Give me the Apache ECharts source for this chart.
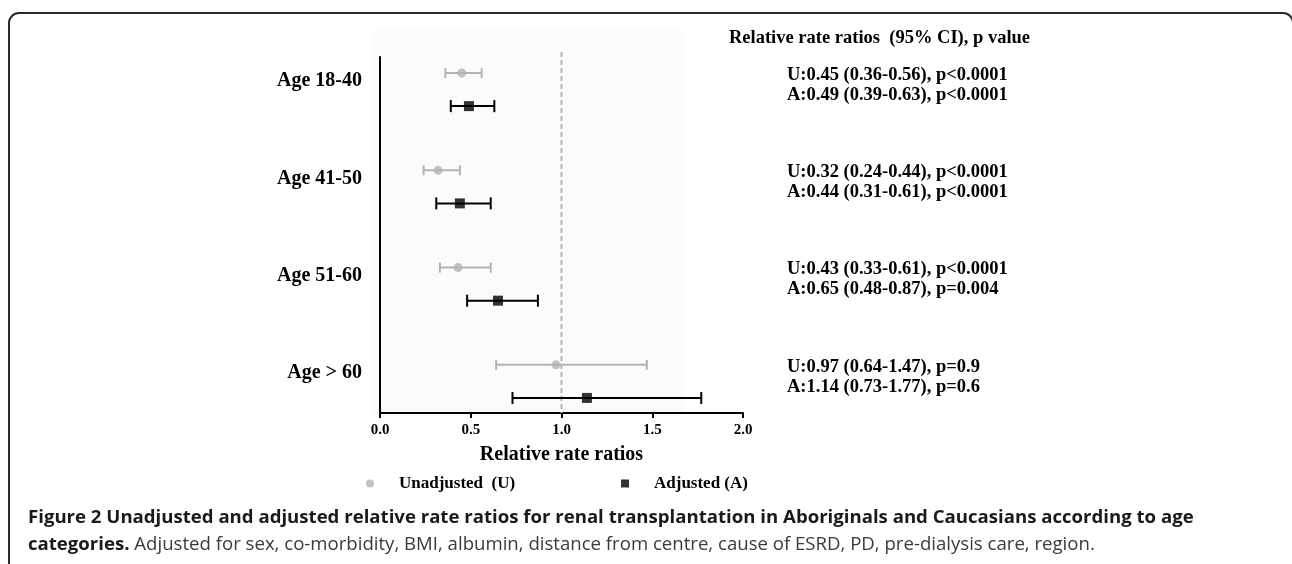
<!DOCTYPE html>
<html><head><meta charset="utf-8">
<script src="https://cdn.jsdelivr.net/npm/echarts@6/dist/echarts.min.js"></script>
<style>html,body{margin:0;padding:0;background:#fff}#c{width:1292px;height:564px}</style>
</head><body><div id="c"></div>
<script>
// ---- data ----
const categories = ['Age 18-40', 'Age 41-50', 'Age 51-60', 'Age > 60'];
const unadjRR = [0.45, 0.32, 0.43, 0.97];
const unadjLo = [0.36, 0.24, 0.33, 0.64];
const unadjHi = [0.56, 0.44, 0.61, 1.47];
const unadjP  = ['p<0.0001', 'p<0.0001', 'p<0.0001', 'p=0.9'];
const adjRR = [0.49, 0.44, 0.65, 1.14];
const adjLo = [0.39, 0.31, 0.48, 0.73];
const adjHi = [0.63, 0.61, 0.87, 1.77];
const adjP  = ['p<0.0001', 'p<0.0001', 'p=0.004', 'p=0.6'];
const xMin = 0, xMax = 2, xStep = 0.5;
const refValue = 1.0;
const seriesNames = ['Unadjusted  (U)', 'Adjusted (A)'];
const tableTitle = 'Relative rate ratios  (95% CI), p value';
const axisTitle = 'Relative rate ratios';
const captionBold1 = 'Figure 2 Unadjusted and adjusted relative rate ratios for renal transplantation in Aboriginals and Caucasians according to age';
const captionBold2 = 'categories.';
const captionRest = ' Adjusted for sex, co-morbidity, BMI, albumin, distance from centre, cause of ESRD, PD, pre-dialysis care, region.';

// ---- layout / style constants ----
const SERIF = '"Liberation Serif", "Times New Roman", serif';
const SANS = '"Open Sans", "Noto Sans", sans-serif';
const U_OFF = 0, A_OFF = 0.34, LABEL_OFF = 0.085;
const Y_MIN = -0.165, Y_MAX = 3.495;
const GRAY = '#b3b3b3';
const fmt = v => v.toFixed(2);

function ciSeries(name, lo, hi, off, color, width, cap) {
  return {
    type: 'custom', name, silent: true, z: 3, clip: false,
    data: lo.map((v, i) => [lo[i], hi[i], i + off]),
    encode: { x: [0, 1], y: 2 },
    renderItem(params, api) {
      const a = api.coord([api.value(0), api.value(2)]);
      const b = api.coord([api.value(1), api.value(2)]);
      const st = { stroke: color, lineWidth: width };
      return { type: 'group', children: [
        { type: 'line', shape: { x1: a[0], y1: a[1], x2: b[0], y2: b[1] }, style: st },
        { type: 'line', shape: { x1: a[0], y1: a[1] - cap, x2: a[0], y2: a[1] + cap }, style: st },
        { type: 'line', shape: { x1: b[0], y1: b[1] - cap, x2: b[0], y2: b[1] + cap }, style: st }
      ]};
    }
  };
}

const chart = echarts.init(document.getElementById('c'), null, { renderer: 'canvas' });
chart.setOption({
  animation: false,
  backgroundColor: '#fff',
  title: {
    text: tableTitle, left: 729, top: 29, padding: 0,
    textStyle: { fontFamily: SERIF, fontWeight: 'bold', fontSize: 18.5, color: '#000' }
  },
  grid: { left: 380, right: 549, top: 57, bottom: 151, containLabel: false },
  xAxis: {
    type: 'value', min: xMin, max: xMax, interval: xStep, position: 'bottom',
    axisLine: { show: true, onZero: false, lineStyle: { color: '#000', width: 2 } },
    axisTick: { show: true, length: 5, lineStyle: { color: '#000', width: 2 } },
    axisLabel: { margin: 10, formatter: v => v.toFixed(1), fontFamily: SERIF, fontWeight: 'bold', fontSize: 15, color: '#000' },
    splitLine: { show: false },
    name: axisTitle, nameLocation: 'middle', nameGap: 32,
    nameTextStyle: { fontFamily: SERIF, fontWeight: 'bold', fontSize: 20, color: '#000' }
  },
  yAxis: {
    type: 'value', inverse: true, min: Y_MIN, max: Y_MAX,
    axisLine: { show: true, onZero: false, lineStyle: { color: '#000', width: 2 } },
    axisTick: { show: false }, axisLabel: { show: false }, splitLine: { show: false }
  },
  legend: [
    { data: [seriesNames[0]], left: 366, top: 475, padding: 0, icon: 'circle', itemWidth: 8, itemHeight: 8,
      selectedMode: false,
      textStyle: { fontFamily: SERIF, fontWeight: 'bold', fontSize: 17, color: '#000', padding: [0, 0, 0, 20] } },
    { data: [seriesNames[1]], left: 621, top: 475, padding: 0, icon: 'rect', itemWidth: 8, itemHeight: 8,
      selectedMode: false,
      textStyle: { fontFamily: SERIF, fontWeight: 'bold', fontSize: 17, color: '#000', padding: [0, 0, 0, 20] } }
  ],
  graphic: [
    { type: 'rect', z: -10, silent: true, shape: { x: 373, y: 30, width: 310, height: 383 }, style: { fill: '#fbfbfb' } },
    { type: 'rect', z: -5, silent: true, shape: { x: 9, y: 13, width: 1284, height: 600, r: 10 },
      style: { fill: null, stroke: '#2a2a2a', lineWidth: 2 } },
    { type: 'text', left: 28, top: 508, silent: true,
      style: {
        text: '{b|' + captionBold1 + '}\n{b|' + captionBold2 + '}{r|' + captionRest + '}',
        rich: {
          b: { fontFamily: SANS, fontWeight: 'bold', fontSize: 18.6, lineHeight: 27, fill: '#1a1a1a' },
          r: { fontFamily: SANS, fontWeight: 'normal', fontSize: 18.6, lineHeight: 27, fill: '#3a3a3a' }
        }
      } }
  ],
  series: [
    { // reference line at RR = 1
      type: 'custom', name: 'ref', silent: true, z: 1, clip: false,
      data: [[refValue]],
      renderItem(params, api) {
        const t = api.coord([api.value(0), Y_MIN]);
        const b = api.coord([api.value(0), Y_MAX]);
        return { type: 'line', shape: { x1: t[0], y1: t[1] - 5, x2: b[0], y2: b[1] },
          style: { stroke: GRAY, lineWidth: 2, lineDash: [5, 3] } };
      }
    },
    ciSeries('U CI', unadjLo, unadjHi, U_OFF, GRAY, 2, 5),
    ciSeries('A CI', adjLo, adjHi, A_OFF, '#000', 2, 6),
    { type: 'scatter', name: seriesNames[0], z: 4, symbol: 'circle', symbolSize: 9,
      itemStyle: { color: GRAY }, data: unadjRR.map((v, i) => [v, i + U_OFF]) },
    { type: 'scatter', name: seriesNames[1], z: 4, symbol: 'rect', symbolSize: 10,
      itemStyle: { color: '#000' }, data: adjRR.map((v, i) => [v, i + A_OFF]) },
    { // category labels, left of axis
      type: 'custom', name: 'labels', silent: true, clip: false,
      data: categories.map((c, i) => [xMin, i + LABEL_OFF]),
      renderItem(params, api) {
        const p = api.coord([api.value(0), api.value(1)]);
        return { type: 'text', x: p[0] - 18, y: p[1],
          style: { text: categories[params.dataIndex], align: 'right', verticalAlign: 'middle',
            font: 'bold 20px ' + SERIF, fill: '#000' } };
      }
    },
    { // rate ratio table, right of plot
      type: 'custom', name: 'table', silent: true, clip: false,
      data: categories.map((c, i) => [xMax, i + U_OFF]),
      renderItem(params, api) {
        const i = params.dataIndex;
        const p = api.coord([api.value(0), api.value(1)]);
        const f = 'bold 18.5px ' + SERIF;
        const u = 'U:' + fmt(unadjRR[i]) + ' (' + fmt(unadjLo[i]) + '-' + fmt(unadjHi[i]) + '), ' + unadjP[i];
        const a = 'A:' + fmt(adjRR[i]) + ' (' + fmt(adjLo[i]) + '-' + fmt(adjHi[i]) + '), ' + adjP[i];
        return { type: 'group', children: [
          { type: 'text', x: p[0] + 44, y: p[1] + 2, style: { text: u, verticalAlign: 'middle', font: f, fill: '#000' } },
          { type: 'text', x: p[0] + 44, y: p[1] + 22, style: { text: a, verticalAlign: 'middle', font: f, fill: '#000' } }
        ]};
      }
    }
  ]
});
</script>
</body></html>
